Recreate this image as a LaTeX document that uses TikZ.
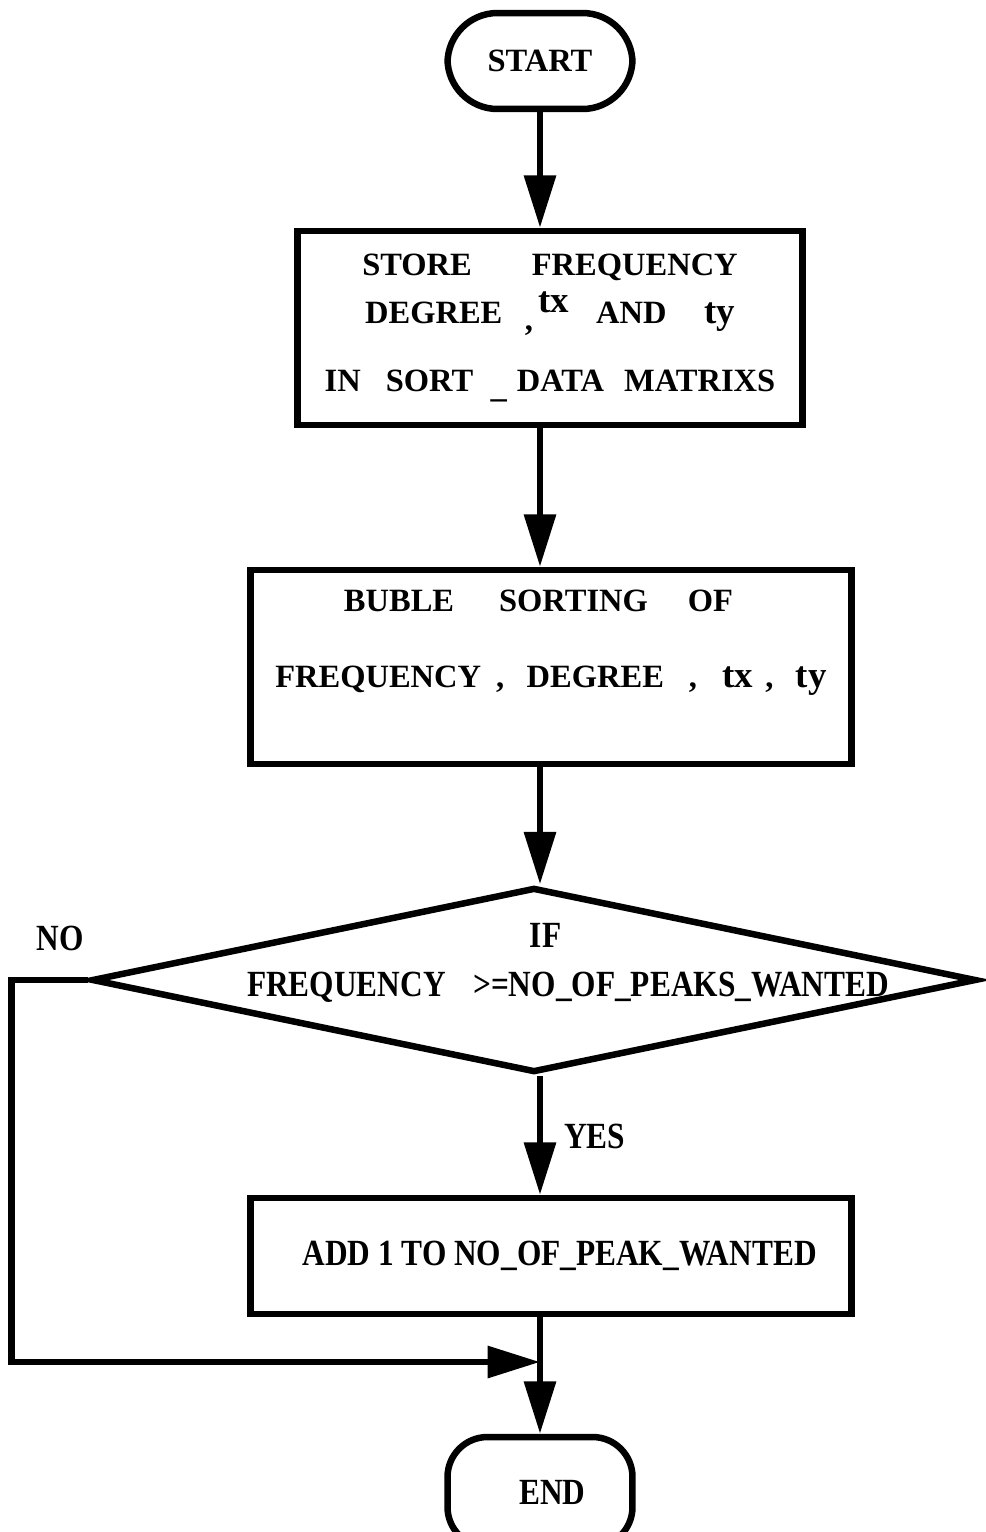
\documentclass[tikz,border=0pt]{standalone}
\usepackage{fontspec}
\setmainfont{Liberation Serif}
\newfontfamily\narrowserif[FakeStretch=0.85]{Liberation Serif}
\usetikzlibrary{arrows.meta,shapes.geometric}

\begin{document}
\begin{tikzpicture}[
		x=0.02cm, y=-0.02cm,
		>={Triangle[length=1.05cm,width=0.62cm]},
		terminal/.style={
			draw=black,
			rounded corners=1cm,
			line width=0.13cm,
			minimum width=3.7cm,
			align=center,
			font=\fontsize{18.5}{22}\selectfont\bfseries
		},
		process/.style={
			draw=black,
			line width=0.13cm,
			align=center,
			inner sep=0pt,
			font=\fontsize{18.5}{22}\selectfont\bfseries
		},
		decision/.style={
			draw=black,
			diamond,
			line width=0.13cm,
			inner sep=0pt,
			minimum width=17.7cm,
			minimum height=3.7cm
		},
		narrow/.style={
			font=\narrowserif\fontsize{21}{28}\selectfont\bfseries,
			align=center
		},
		arrow/.style={
			->,
			line width=0.13cm,
			draw=black
		}
	]
	\useasboundingbox (0,0) rectangle (985,1532);

	% Start
	\node[terminal, minimum height=1.92cm] (start) at (540,61) {START};

	% Store the data
	\node[process, minimum width=10.1cm, minimum height=3.88cm] (store) at (550,328) {%
		STORE\hspace{1.2cm}FREQUENCY\\[5pt]
		DEGREE\hspace{0.45cm}\raisebox{-4pt}{,}\hspace{0.1cm}\raisebox{6pt}{\fontsize{21}{21}\selectfont tx}\hspace{0.55cm}AND\hspace{0.75cm}{\fontsize{21}{21}\selectfont ty}\hspace*{0.3cm}\\[17pt]
		IN\hspace{0.5cm}SORT\hspace{0.35cm}\raisebox{-3pt}{\_}\hspace{0.2cm}DATA\hspace{0.4cm}MATRIXS
	};

	% Sorting
	\node[process, minimum width=12.02cm, minimum height=3.88cm] (sorting) at (551,667) {%
		BUBLE\hspace{0.9cm}SORTING\hspace{0.8cm}OF\hspace*{0.5cm}\\[21pt]
		FREQUENCY\hspace{0.3cm},\hspace{0.45cm}DEGREE\hspace{0.5cm},\hspace{0.5cm}{\fontsize{21}{21}\selectfont tx}\hspace{0.25cm},\hspace{0.45cm}{\fontsize{21}{21}\selectfont ty}\\[10pt]
		\mbox{}
	};

	% Test
	\node[decision] (cond) at (534,980) {};
	\node[narrow] (condtxt) at (568,963) {%
		IF\hspace*{0.9cm}\\
		FREQUENCY\hspace{0.55cm}>=NO\_OF\_PEAKS\_WANTED
	};
	\node[narrow] (no) at (60,938) {NO};
	\node[narrow, anchor=west] (yes) at (558,1136) {YES};

	% Count
	\node[process, minimum width=12.02cm, minimum height=2.32cm,
		font=\narrowserif\fontsize{21}{25}\selectfont\bfseries] (addone) at (551,1256) {%
		\hspace*{0.5cm}ADD 1 TO NO\_OF\_PEAK\_WANTED
	};

	% End
	\node[terminal, rounded corners=0.8cm, minimum height=2.2cm,
		font=\narrowserif\fontsize{21}{25}\selectfont\bfseries] (stop) at (540,1492) {\hspace*{0.5cm}END};

	\coordinate (join) at (540,1362);

	% Arrows
	\draw[arrow] (start.south) -- (start.south |- store.north);
	\draw[arrow] (start.south |- store.south) -- (start.south |- sorting.north);
	\draw[arrow] (start.south |- sorting.south) -- (start.south |- cond.north);
	\draw[arrow] (start.south |- cond.south) -- (start.south |- addone.north);
	\draw[arrow] (start.south |- addone.south) -- (stop.north);
	\draw[arrow] (cond.west) -- ++(-77,0) |- (join);

\end{tikzpicture}
\end{document}
